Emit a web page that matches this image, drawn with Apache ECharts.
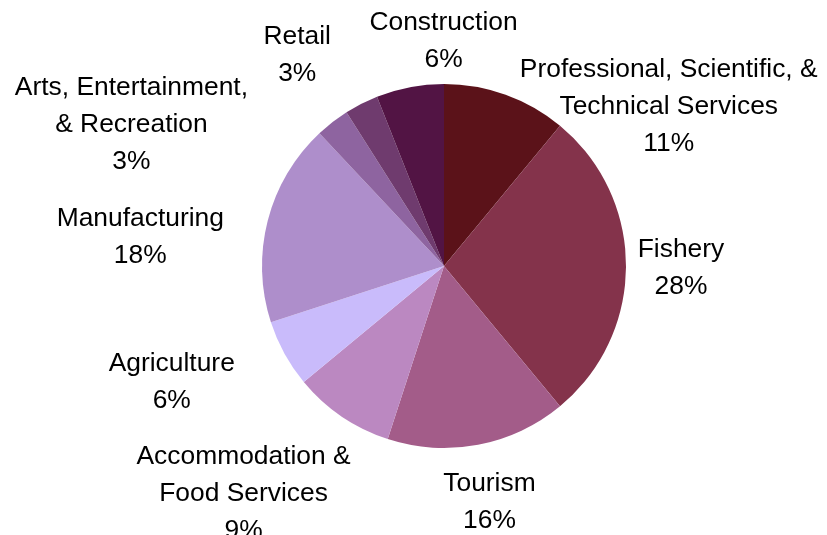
<!DOCTYPE html>
<html>
<head>
<meta charset="utf-8">
<title>Employment by industry</title>
<script src="https://cdn.jsdelivr.net/npm/echarts@6/dist/echarts.min.js"></script>
<style>
    html, body {
        margin: 0;
        padding: 0;
        background: #fff;
    }

    #pie {
        width: 827px;
        height: 535px;
    }
</style>
</head>
<body>
<div id="pie"></div>
<script>
const categories = [
    'Professional, Scientific, &\nTechnical Services',
    'Fishery',
    'Tourism',
    'Accommodation &\nFood Services',
    'Agriculture',
    'Manufacturing',
    'Arts, Entertainment,\n& Recreation',
    'Retail',
    'Construction'
]

const shares = [11, 28, 16, 9, 6, 18, 3, 3, 6]

const sliceColors = [
    '#5b1219', '#84334b', '#a35c89', '#bb88c1', '#c9bbfb',
    '#ae8ecb', '#8e64a0', '#6f3b6e', '#521444'
]

// where each label sits, relative to the point the pie puts it at (px)
const labelNudges = [
    [157, 29], [37, 2], [8, 40], [-88, 62], [-97, 20],
    [-110, 21], [-190, 17], [-56, -33], [37, -28]
]

const myChart = echarts.init(document.getElementById('pie'))

const option = {
    animation: false,
    series: [
        {
            type: 'pie',
            center: [444, 266],
            radius: 182,
            startAngle: 90,
            clockwise: true,
            avoidLabelOverlap: false,
            percentPrecision: 0,
            itemStyle: {
                borderWidth: 0
            },
            label: {
                show: true,
                position: 'outside',
                formatter: '{b}\n{d}%',
                color: '#000',
                fontFamily: 'Liberation Sans',
                fontSize: 26.4,
                lineHeight: 37,
                align: 'center',
                distanceToLabelLine: 0
            },
            labelLine: {
                show: false,
                length: 18,
                length2: 0
            },
            labelLayout(params) {
                const rect = params.labelRect
                let ax = rect.x
                if (params.align === 'right') ax = rect.x + rect.width
                if (params.align === 'center') ax = rect.x + rect.width / 2
                const ay = rect.y + rect.height / 2
                const nudge = labelNudges[params.dataIndex]
                return {
                    x: ax + nudge[0],
                    y: ay + nudge[1],
                    align: 'center',
                    verticalAlign: 'middle'
                }
            },
            emphasis: {
                disabled: true
            },
            data: categories.map((name, i) => ({
                name: name,
                value: shares[i],
                itemStyle: { color: sliceColors[i] }
            }))
        }
    ]
}

myChart.setOption(option)

window.addEventListener('resize', () => {
    myChart.resize()
})
</script>
</body>
</html>
